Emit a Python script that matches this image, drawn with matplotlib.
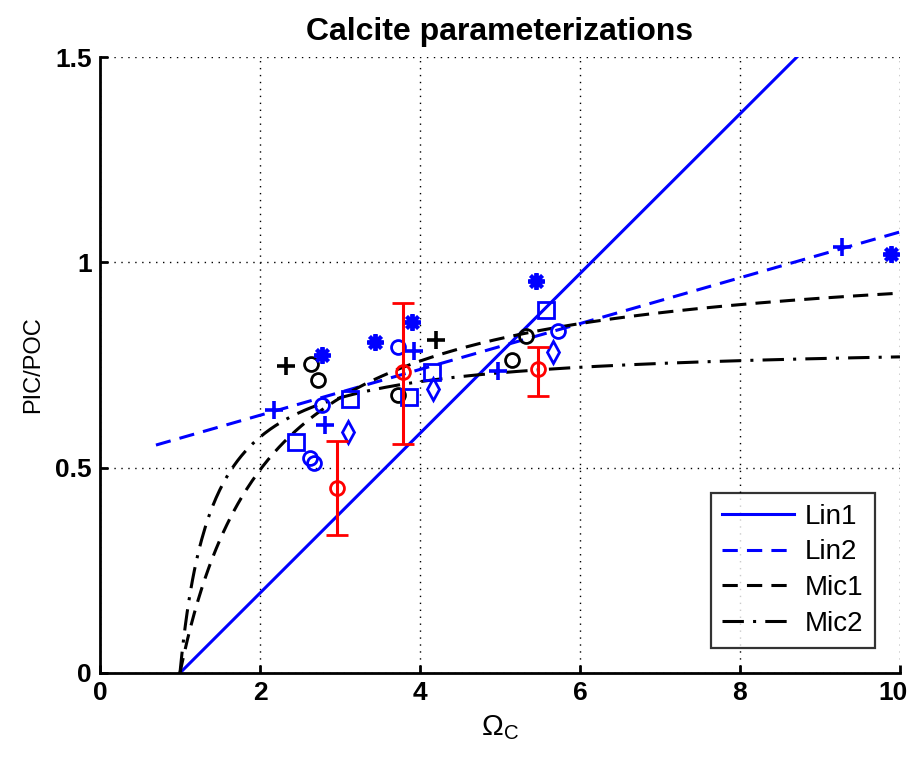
import numpy as np
import matplotlib
matplotlib.use("Agg")
import matplotlib.pyplot as plt
from matplotlib.transforms import ScaledTranslation

plt.rcParams['font.family'] = ['Liberation Sans', 'DejaVu Sans']
plt.rcParams['mathtext.fontset'] = 'custom'
plt.rcParams['mathtext.rm'] = 'Liberation Sans'

# parameterization curves
lin1_slope = 0.1945
lin2_start, lin2_end = 0.555, 1.074
mic1_a, mic1_k = 1.038, 1.10
mic2_a, mic2_k = 0.804, 0.40

# black observations
blk_plus_x = [2.33, 4.20]
blk_plus_y = [0.747, 0.810]
blk_circ_x = [2.64, 2.73, 3.72, 5.15, 5.33]
blk_circ_y = [0.752, 0.713, 0.677, 0.762, 0.820]

# blue observations
blu_star_x = [2.77, 3.44, 3.90, 5.45, 9.89]
blu_star_y = [0.774, 0.806, 0.855, 0.954, 1.020]
blu_plus_x = [2.17, 2.81, 3.93, 4.98, 9.27]
blu_plus_y = [0.640, 0.604, 0.784, 0.735, 1.037]
blu_sq_x = [2.45, 3.12, 3.86, 4.15, 5.58]
blu_sq_y = [0.562, 0.667, 0.672, 0.733, 0.884]
blu_circ_x = [2.78, 3.72, 5.72, 2.63, 2.68]
blu_circ_y = [0.652, 0.794, 0.833, 0.523, 0.511]
blu_dia_x = [3.10, 4.16, 5.66]
blu_dia_y = [0.587, 0.692, 0.782]

# red means with error bars
red_x = [2.96, 3.79, 5.48]
red_y = [0.450, 0.733, 0.740]
red_lo = [0.335, 0.557, 0.675]
red_hi = [0.565, 0.900, 0.795]

fig = plt.figure(figsize=(9.12, 7.57), dpi=100)
ax = fig.add_axes([0.1096, 0.111, 0.8772, 0.8137])

x = np.linspace(1, 10, 400)
xl = np.linspace(0.7, 10, 50)
lw = 2.2
ax.plot(x, lin1_slope * (x - 1), color='#0000ff', lw=lw, label='Lin1')
ax.plot(xl, lin2_start + (lin2_end - lin2_start) * (xl - 0.7) / 9.3,
        color='#0000ff', lw=lw, ls=(0, (5, 3)), label='Lin2')
ax.plot(x, mic1_a * (x - 1) / (mic1_k + x - 1), color='k', lw=lw,
        ls=(0, (5, 3)), label='Mic1')
ax.plot(x, mic2_a * (x - 1) / (mic2_k + x - 1), color='k', lw=lw,
        ls=(0, (7, 3, 1, 3)), label='Mic2')

mk = dict(ls='none', mfc='none', mew=2.0)
ax.plot(blk_plus_x, blk_plus_y, marker='+', color='k', ms=13, mew=2.6, ls='none')
ax.plot(blk_circ_x, blk_circ_y, marker='o', color='k', ms=10, **mk)
ax.plot(blu_star_x, blu_star_y, marker=(8, 2, 0), color='#0000ff', ms=12, mew=2.8, ls='none')
ax.plot(blu_plus_x, blu_plus_y, marker='+', color='#0000ff', ms=13, mew=2.6, ls='none')
ax.plot(blu_sq_x, blu_sq_y, marker='s', color='#0000ff', ms=12, **mk)
ax.plot(blu_circ_x, blu_circ_y, marker='o', color='#0000ff', ms=10, **mk)
ax.plot(blu_dia_x, blu_dia_y, marker='d', color='#0000ff', ms=11, **mk)

yerr = [np.array(red_y) - np.array(red_lo), np.array(red_hi) - np.array(red_y)]
ax.errorbar(red_x, red_y, yerr=yerr, fmt='o', color='#ff0000', mfc='none',
            ms=10, mew=2.0, elinewidth=2.2, capsize=8, capthick=2.2)

ax.set_xlim(0, 10)
ax.set_ylim(0, 1.5)
ax.set_xticks([0, 2, 4, 6, 8, 10])
ax.set_yticks([0, 0.5, 1, 1.5])
ax.set_yticklabels(['0', '0.5', '1', '1.5'])
ax.grid(True, color='k', ls=(0, (1, 4)), lw=1.0)
for s in ['top', 'right']:
    ax.spines[s].set_visible(False)
for s in ['left', 'bottom']:
    ax.spines[s].set_linewidth(2.0)
ax.tick_params(direction='in', length=6, width=2.0, labelsize=19, pad=6)
for lab in ax.get_xticklabels() + ax.get_yticklabels():
    lab.set_fontweight('bold')
# keep the last x tick label inside the figure
last = ax.get_xticklabels()[-1]
last.set_transform(last.get_transform() + ScaledTranslation(-5 / 72, 0, fig.dpi_scale_trans))

ax.set_title('Calcite parameterizations', fontsize=23, fontweight='bold', pad=12)
ax.set_xlabel(r'$\Omega_\mathrm{C}$', fontsize=21, labelpad=6)
ax.set_ylabel('PIC/POC', fontsize=17, labelpad=8)

leg = ax.legend(loc='lower right', fontsize=20, frameon=True, fancybox=False,
                edgecolor='k', handlelength=2.6, borderaxespad=0.9,
                labelspacing=0.35, handletextpad=0.4, borderpad=0.4)
leg.get_frame().set_linewidth(1.6)

fig.savefig('out.png', dpi=100)
